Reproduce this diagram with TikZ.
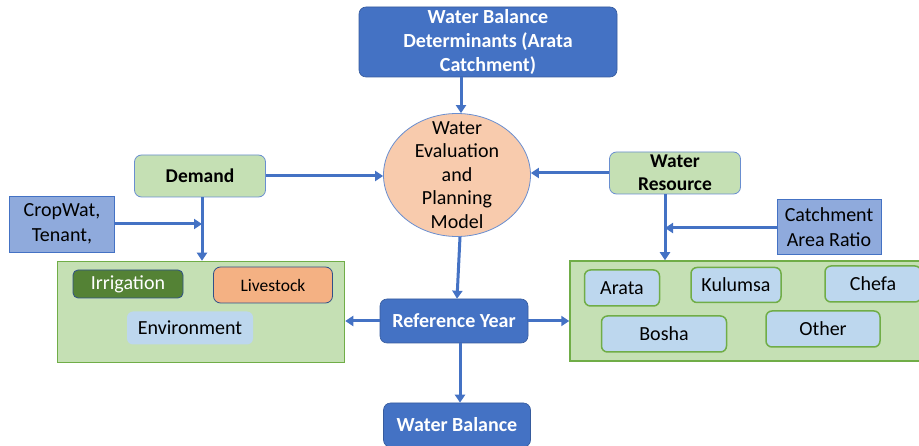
\documentclass[tikz,border=0pt]{standalone}
\usepackage{fontspec}
\setmainfont{Carlito}
\usetikzlibrary{arrows.meta,shapes.geometric}
\definecolor{mblue}{HTML}{4472C4}
\definecolor{lgreen}{HTML}{C5E0B4}
\definecolor{ggreen}{HTML}{70AD47}
\definecolor{dgreen}{HTML}{548235}
\definecolor{peach}{HTML}{F8CBAD}
\definecolor{lorange}{HTML}{F4B183}
\definecolor{lblue}{HTML}{BDD7EE}
\definecolor{sblue}{HTML}{8FAADC}
\tikzset{
  x=1pt, y=-1pt,
  base/.style={rectangle, inner sep=0pt, align=center, font=\fontsize{20}{24}\selectfont},
  darkbox/.style={base, rounded corners=7pt, fill=mblue, draw=mblue!80!black, line width=0.6pt, text=white, font=\fontsize{20}{24}\selectfont\bfseries},
  greenbox/.style={base, rounded corners=7pt, fill=lgreen, draw=mblue!80, line width=0.8pt, font=\fontsize{19.5}{23}\selectfont\bfseries},
  inputbox/.style={base, fill=sblue, draw=mblue, line width=0.8pt, font=\fontsize{20}{25}\selectfont},
  groupbox/.style={base, fill=lgreen, draw=ggreen, line width=1.5pt},
  itembox/.style={base, rounded corners=6pt, fill=lblue, draw=ggreen, line width=1.5pt, font=\fontsize{20}{24}\selectfont},
  link/.style={draw=mblue, line width=3pt, -{Triangle[length=8pt,width=10pt]}},
}
\begin{document}
\begin{tikzpicture}
\useasboundingbox (0,0) rectangle (919,446);
\clip (0,0) rectangle (919,446);

% central model
\node[darkbox, minimum width=258, minimum height=70] (det) at (488,42)
  {Water Balance\\Determinants (Arata\\Catchment)};
\node[ellipse, fill=peach, draw=mblue!80, line width=0.8pt, minimum width=147, minimum height=123,
      inner sep=0pt] (weap) at (457,175) {};
\node[base, font=\fontsize{20}{23.5}\selectfont] (weaptext) at (weap.center)
  {Water\\Evaluation\\and\\Planning\\Model};
\node[darkbox, minimum width=148, minimum height=44] (ref) at (454,321) {Reference Year};
\node[darkbox, minimum width=147, minimum height=44] (wb) at (457,425) {Water Balance};

% demand side
\node[greenbox, minimum width=131, minimum height=42] (dem) at (200,176) {Demand};
\node[inputbox, minimum width=105, minimum height=56] (crop) at (62,224) {CropWat,\\Tenant,};
\node[groupbox, minimum width=287, minimum height=101] (dgrp) at (201,312) {};
\node[base, rounded corners=5pt, fill=dgreen, draw=mblue!70!black, line width=0.8pt, text=white,
      minimum width=110, minimum height=28] (irr) at (128,284) {Irrigation};
\node[base, rounded corners=7pt, fill=lorange, draw=mblue!70!black, line width=0.8pt,
      minimum width=119, minimum height=36, font=\fontsize{17.5}{20}\selectfont] (live) at (273,285) {Livestock};
\node[base, rounded corners=6pt, fill=lblue, minimum width=126, minimum height=33] (env) at (190,328) {Environment};

% resource side
\node[greenbox, minimum width=131, minimum height=42] (res) at (675,173) {Water\\Resource};
\node[inputbox, minimum width=104, minimum height=55] (cat) at (829,227) {Catchment\\Area Ratio};
\node[groupbox, minimum width=360, minimum height=100] (rgrp) at (750,311) {};
\node[itembox, minimum width=75, minimum height=36] (ara) at (622,288) {Arata};
\node[itembox, minimum width=90, minimum height=35] (kul) at (736,285) {Kulumsa};
\node[itembox, minimum width=96, minimum height=36] (che) at (873,284) {Chefa};
\node[itembox, minimum width=125, minimum height=36] (bos) at (664,334) {Bosha};
\node[itembox, minimum width=114, minimum height=36] (oth) at (823,329) {Other};

% connectors
\coordinate (demjoin) at (202,224);
\coordinate (resjoin) at (665,228);
\draw[link] (det.south -| 461,0) -- (weap.north -| 461,0);
\draw[link] (dem.east) -- (weap.west |- dem.east);
\draw[link] (res.west) -- (weap.east |- res.west);
\draw[link] (weap.south -| 460,0) -- (ref.north -| 457,0);
\draw[link] (ref.west) -- (dgrp.east |- ref.west);
\draw[link] (ref.east) -- (rgrp.west |- ref.east);
\draw[link] (ref.south -| 460,0) -- (wb.north -| 460,0);
\draw[link] (dem.south -| 202,0) -- (dgrp.north -| 202,0);
\draw[link] (crop.east |- demjoin) -- (demjoin);
\draw[link] (res.south -| 665,0) -- (rgrp.north -| 665,0);
\draw[link] (cat.west |- resjoin) -- (resjoin);
\end{tikzpicture}
\end{document}
